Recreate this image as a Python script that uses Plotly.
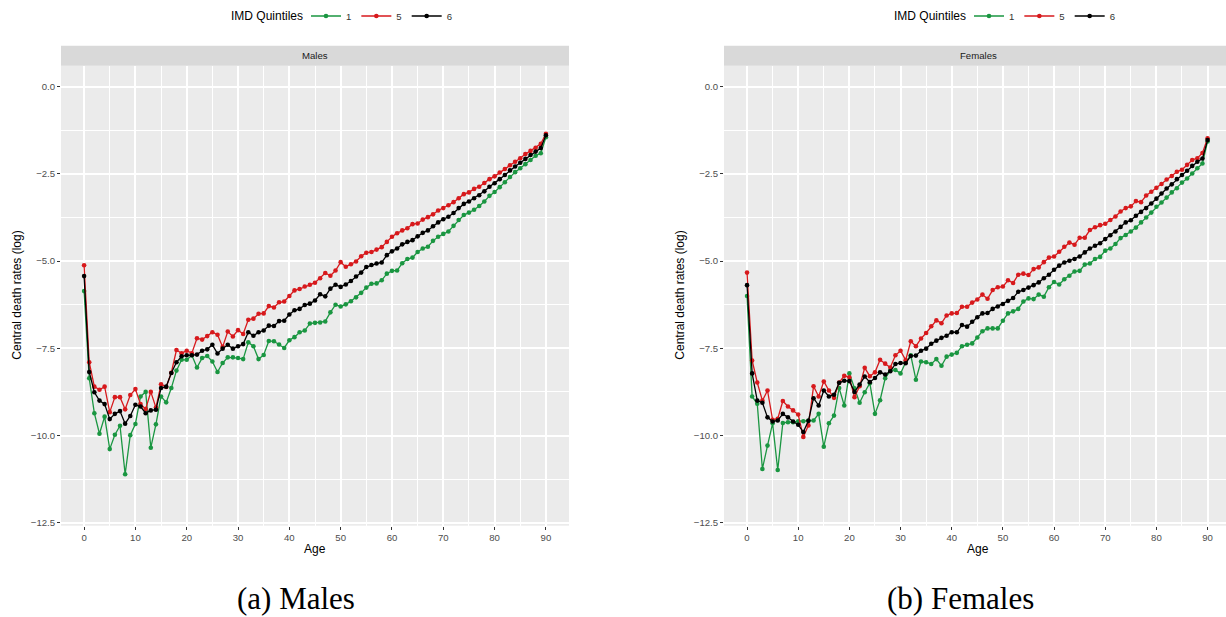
import plotly.graph_objects as go

# ---------------- data ----------------
ages = list(range(0, 91))

males_q1 = [-5.86, -8.36, -9.36, -9.95, -9.46, -10.39, -9.98, -9.72, -11.11, -9.99,
            -9.67, -8.88, -8.75, -10.35, -9.68, -8.88, -9.05, -8.64, -8.14, -7.83,
            -7.83, -7.70, -8.05, -7.78, -7.72, -7.88, -8.18, -7.92, -7.76, -7.76,
            -7.78, -7.81, -7.33, -7.44, -7.81, -7.69, -7.29, -7.30, -7.39, -7.49,
            -7.27, -7.18, -7.04, -6.99, -6.79, -6.77, -6.76, -6.73, -6.47, -6.25,
            -6.30, -6.24, -6.15, -6.04, -5.91, -5.76, -5.65, -5.64, -5.55, -5.36,
            -5.28, -5.27, -5.06, -4.94, -4.90, -4.74, -4.64, -4.59, -4.42, -4.30,
            -4.22, -4.15, -3.99, -3.82, -3.68, -3.61, -3.53, -3.42, -3.29, -3.13,
            -3.02, -2.88, -2.74, -2.59, -2.45, -2.34, -2.22, -2.10, -1.98, -1.91,
            -1.45]
males_q5 = [-5.12, -7.90, -8.60, -8.69, -8.60, -9.33, -8.90, -8.90, -9.25, -8.84,
            -8.67, -9.10, -9.24, -8.75, -9.20, -8.53, -8.61, -8.20, -7.55, -7.64,
            -7.57, -7.64, -7.21, -7.25, -7.15, -7.04, -7.11, -7.46, -7.02, -7.16,
            -6.98, -7.09, -6.68, -6.65, -6.51, -6.50, -6.29, -6.33, -6.18, -6.16,
            -6.00, -5.84, -5.80, -5.73, -5.68, -5.62, -5.49, -5.34, -5.42, -5.27,
            -5.03, -5.16, -5.09, -5.01, -4.86, -4.76, -4.74, -4.67, -4.60, -4.45,
            -4.30, -4.20, -4.12, -4.06, -3.94, -3.92, -3.81, -3.74, -3.66, -3.55,
            -3.48, -3.40, -3.31, -3.20, -3.08, -3.03, -2.93, -2.87, -2.76, -2.65,
            -2.57, -2.46, -2.36, -2.25, -2.15, -2.05, -1.93, -1.84, -1.75, -1.64,
            -1.35]
males_q6 = [-5.43, -8.18, -8.76, -9.00, -9.10, -9.53, -9.38, -9.30, -9.66, -9.44,
            -9.12, -9.17, -9.36, -9.28, -9.26, -8.64, -8.60, -8.21, -7.90, -7.73,
            -7.70, -7.70, -7.68, -7.57, -7.53, -7.40, -7.65, -7.51, -7.40, -7.51,
            -7.44, -7.38, -7.04, -7.14, -7.04, -6.99, -6.85, -6.86, -6.72, -6.71,
            -6.53, -6.41, -6.37, -6.26, -6.22, -6.13, -5.95, -6.01, -5.79, -5.68,
            -5.74, -5.67, -5.57, -5.44, -5.33, -5.17, -5.11, -5.07, -5.04, -4.83,
            -4.72, -4.64, -4.52, -4.45, -4.40, -4.29, -4.19, -4.12, -4.00, -3.89,
            -3.80, -3.73, -3.62, -3.48, -3.36, -3.29, -3.20, -3.11, -3.00, -2.87,
            -2.77, -2.65, -2.53, -2.40, -2.29, -2.18, -2.07, -1.96, -1.86, -1.76,
            -1.39]

females_q1 = [-6.00, -8.88, -9.09, -10.96, -10.29, -9.65, -10.99, -9.64, -9.62, -9.62,
              -9.59, -9.59, -9.57, -9.57, -9.38, -10.32, -9.65, -9.43, -8.64, -9.14,
              -8.22, -8.65, -9.06, -8.76, -8.50, -9.38, -8.99, -8.36, -8.14, -8.12,
              -8.22, -7.90, -7.70, -8.40, -7.88, -7.90, -7.95, -7.81, -8.00, -7.74,
              -7.68, -7.63, -7.44, -7.40, -7.36, -7.19, -7.01, -6.93, -6.93, -6.93,
              -6.71, -6.50, -6.44, -6.37, -6.16, -6.07, -6.09, -5.96, -6.02, -5.75,
              -5.60, -5.67, -5.52, -5.42, -5.30, -5.28, -5.10, -5.07, -4.94, -4.88,
              -4.70, -4.64, -4.51, -4.34, -4.25, -4.15, -4.04, -3.89, -3.75, -3.61,
              -3.44, -3.32, -3.18, -3.03, -2.91, -2.75, -2.63, -2.49, -2.34, -2.20,
              -1.57]
females_q5 = [-5.33, -7.85, -8.48, -9.00, -8.71, -9.55, -9.52, -9.01, -9.17, -9.28,
              -9.40, -10.04, -9.71, -8.59, -8.88, -8.45, -8.71, -8.92, -8.48, -8.29,
              -8.33, -8.90, -8.59, -8.06, -8.30, -8.19, -7.83, -7.94, -8.05, -7.70,
              -7.57, -7.84, -7.30, -7.44, -7.22, -7.06, -6.87, -6.70, -6.78, -6.56,
              -6.50, -6.49, -6.31, -6.31, -6.19, -6.10, -5.96, -6.08, -5.83, -5.75,
              -5.73, -5.55, -5.63, -5.39, -5.36, -5.40, -5.23, -5.18, -5.03, -4.90,
              -4.87, -4.73, -4.59, -4.47, -4.53, -4.33, -4.33, -4.11, -4.03, -3.97,
              -3.93, -3.82, -3.72, -3.58, -3.48, -3.43, -3.28, -3.31, -3.12, -3.01,
              -2.90, -2.79, -2.66, -2.56, -2.44, -2.38, -2.24, -2.10, -2.05, -1.90,
              -1.48]
females_q6 = [-5.69, -8.22, -9.00, -9.06, -9.48, -9.60, -9.57, -9.38, -9.48, -9.60,
              -9.69, -9.90, -9.58, -8.93, -9.14, -8.71, -8.88, -8.83, -8.49, -8.43,
              -8.44, -8.75, -8.54, -8.31, -8.47, -8.35, -8.19, -8.25, -8.16, -7.95,
              -7.92, -7.93, -7.72, -7.71, -7.57, -7.51, -7.37, -7.28, -7.20, -7.14,
              -7.04, -7.04, -6.83, -6.88, -6.74, -6.61, -6.50, -6.49, -6.37, -6.30,
              -6.23, -6.14, -6.06, -5.88, -5.83, -5.76, -5.69, -5.61, -5.49, -5.39,
              -5.25, -5.13, -5.04, -4.99, -4.94, -4.87, -4.75, -4.64, -4.56, -4.49,
              -4.37, -4.26, -4.15, -4.02, -3.89, -3.83, -3.70, -3.59, -3.48, -3.35,
              -3.21, -3.06, -2.92, -2.80, -2.65, -2.53, -2.41, -2.27, -2.15, -2.06,
              -1.53]

quintile_names = ["1", "5", "6"]
quintile_colors = ["#1a9641", "#d7191c", "#000000"]
panel_titles = ["Males", "Females"]
captions = ["(a) Males", "(b) Females"]
legend_title = "IMD Quintiles"
x_ticks = list(range(0, 91, 10))
y_ticks = [0.0, -2.5, -5.0, -7.5, -10.0, -12.5]

# ---------------- layout geometry ----------------
W, H = 1226, 617
def px(x):
    return x / W
def py(y):
    return 1 - y / H

panel_x = [(61, 569), (724, 1226)]
panel_center = [315, 978]
panel_top, panel_bot = 65.7, 525.7
strip_top = 45.7
x_ranges = [[-4.5, 94.5], [-4.5, 93.6]]
y_range = [-12.586, 0.602]
legend_title_right = [305, 968]

FONT = "Liberation Sans"
fig = go.Figure()

series = [[males_q1, males_q5, males_q6], [females_q1, females_q5, females_q6]]
for p in range(2):
    xa = "x" if p == 0 else "x2"
    ya = "y" if p == 0 else "y2"
    leg = "legend" if p == 0 else "legend2"
    for name, col, vals in zip(quintile_names, quintile_colors, series[p]):
        fig.add_trace(go.Scatter(
            x=ages, y=vals, name=name, mode="lines+markers",
            line=dict(color=col, width=1.3),
            marker=dict(color=col, size=4.6),
            xaxis=xa, yaxis=ya, legend=leg, showlegend=True,
        ))

axis_common = dict(
    showgrid=True, gridcolor="#FFFFFF", gridwidth=1.6,
    zeroline=False, showline=False,
    ticks="outside", ticklen=3, tickwidth=1, tickcolor="#333333",
    tickfont=dict(family=FONT, size=9.6, color="#4D4D4D"),
    automargin=False,
)

for p in range(2):
    sfx = "" if p == 0 else "2"
    fig.update_layout(**{
        "xaxis" + sfx: dict(
            axis_common, domain=[px(panel_x[p][0]), px(panel_x[p][1])],
            range=x_ranges[p], tickvals=x_ticks, ticktext=[str(v) for v in x_ticks],
            anchor="y" + sfx,
            minor=dict(dtick=5, tick0=5, gridcolor="#FFFFFF", gridwidth=0.7, showgrid=True, ticks=""),
        ),
        "yaxis" + sfx: dict(
            axis_common, domain=[py(panel_bot), py(panel_top)],
            range=y_range, tickvals=y_ticks, tickformat=".1f",
            anchor="x" + sfx,
            minor=dict(dtick=1.25, tick0=-1.25, gridcolor="#FFFFFF", gridwidth=0.7, showgrid=True, ticks=""),
        ),
    })

shapes = []
annotations = []
for p in range(2):
    x0, x1 = panel_x[p]
    cx = panel_center[p]
    shapes.append(dict(type="rect", xref="paper", yref="paper",
                       x0=px(x0), x1=px(x1), y0=py(panel_top), y1=py(strip_top),
                       fillcolor="#D9D9D9", line=dict(width=0), layer="below"))
    annotations.append(dict(text=panel_titles[p], xref="paper", yref="paper",
                            x=px(cx), y=py((panel_top + strip_top) / 2),
                            xanchor="center", yanchor="middle", showarrow=False,
                            font=dict(family=FONT, size=9.6, color="#1A1A1A")))
    annotations.append(dict(text="Age", xref="paper", yref="paper",
                            x=px(cx), y=py(549), xanchor="center", yanchor="middle",
                            showarrow=False, font=dict(family=FONT, size=12, color="#000000")))
    annotations.append(dict(text="Central death rates (log)", xref="paper", yref="paper",
                            x=px(17 if p == 0 else 680), y=py((panel_top + panel_bot) / 2),
                            xanchor="center", yanchor="middle", textangle=-90,
                            showarrow=False, font=dict(family=FONT, size=12, color="#000000")))
    annotations.append(dict(text=captions[p], xref="paper", yref="paper",
                            x=px(296 if p == 0 else 960), y=py(598),
                            xanchor="center", yanchor="middle", showarrow=False,
                            font=dict(family="Liberation Serif", size=31, color="#000000")))
    annotations.append(dict(text=legend_title, xref="paper", yref="paper",
                            x=px(legend_title_right[p]), y=py(16),
                            xanchor="right", yanchor="middle", showarrow=False,
                            font=dict(family=FONT, size=12, color="#000000")))

legend_common = dict(
    orientation="h", xanchor="left", yanchor="middle", y=py(16),
    font=dict(family=FONT, size=9.6, color="#333333"),
    itemwidth=30, bgcolor="rgba(0,0,0,0)", tracegroupgap=0,
)

fig.update_layout(
    width=W, height=H,
    margin=dict(l=0, r=0, t=0, b=0),
    paper_bgcolor="#FFFFFF", plot_bgcolor="#EBEBEB",
    shapes=shapes, annotations=annotations,
    legend=dict(legend_common, x=px(legend_title_right[0] + 1)),
    legend2=dict(legend_common, x=px(legend_title_right[1] + 1)),
    font=dict(family=FONT),
)

fig.write_html("out.html")
